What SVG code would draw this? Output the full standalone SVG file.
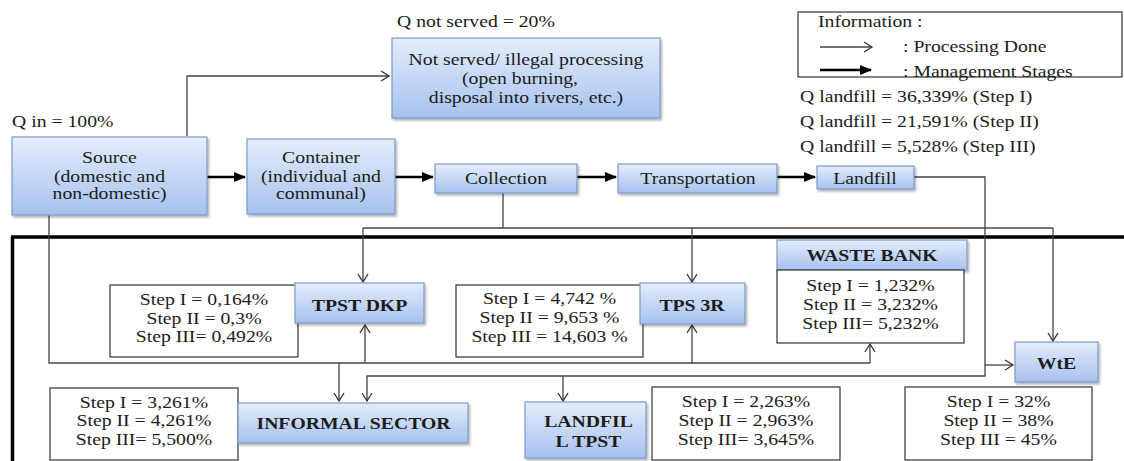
<svg xmlns="http://www.w3.org/2000/svg" width="1124" height="461" viewBox="0 0 1124 461">
<defs>
<linearGradient id="bg" x1="0" y1="0" x2="0" y2="1">
<stop offset="0" stop-color="#e4edfc"/>
<stop offset="1" stop-color="#a6c1ee"/>
</linearGradient>
<filter id="sh" x="-10%" y="-10%" width="130%" height="140%">
<feDropShadow dx="1.5" dy="2" stdDeviation="1.2" flood-color="#000" flood-opacity="0.3"/>
</filter>
<marker id="open" markerWidth="12" markerHeight="12" refX="10" refY="6" orient="auto" markerUnits="userSpaceOnUse">
<path d="M2,1 L10,6 L2,11" fill="none" stroke="#333" stroke-width="1.3"/>
</marker>
<marker id="solid" markerWidth="12" markerHeight="10" refX="11" refY="5" orient="auto" markerUnits="userSpaceOnUse">
<path d="M0,0 L12,5 L0,10 Z" fill="#000"/>
</marker>
<style>
.b{fill:url(#bg);stroke:#7d99c9;stroke-width:1.2;filter:url(#sh)}
.w{fill:#fff;stroke:#333;stroke-width:1.2}
.c{text-anchor:middle}
.bd{font-weight:bold}
.thin{fill:none;stroke:#444;stroke-width:1.3}
.thk{fill:none;stroke:#000;stroke-width:2.6}
</style>
</defs>
<rect width="1124" height="461" fill="#fff"/>

<g id="frame">
<path d="M11,237 H1124 M12.5,237 V461" fill="none" stroke="#000" stroke-width="3.5"/>
</g>

<g id="connectors">
<path class="thin" d="M187,136 V76 H389" marker-end="url(#open)"/>
<path class="thk" d="M207,177 H245" marker-end="url(#solid)"/>
<path class="thk" d="M395,177 H433" marker-end="url(#solid)"/>
<path class="thk" d="M577,177 H616" marker-end="url(#solid)"/>
<path class="thk" d="M777,177 H815" marker-end="url(#solid)"/>
<path class="thin" d="M503,193 V228"/>
<path class="thin" d="M363,228 H1053"/>
<path class="thin" d="M363,228 V282" marker-end="url(#open)"/>
<path class="thin" d="M692,228 V282" marker-end="url(#open)"/>
<path class="thin" d="M1053,228 V341" marker-end="url(#open)"/>
<path class="thin" d="M49,215 V363 H870"/>
<path class="thin" d="M365,363 V325" marker-end="url(#open)"/>
<path class="thin" d="M692,363 V325" marker-end="url(#open)"/>
<path class="thin" d="M870,363 V344" marker-end="url(#open)"/>
<path class="thin" d="M339,363 V401" marker-end="url(#open)"/>
<path class="thin" d="M914,177 H985 V376 H367 V401" marker-end="url(#open)"/>
<path class="thin" d="M563,376 V401" marker-end="url(#open)"/>
<path class="thin" d="M985,365 H1013" marker-end="url(#open)"/>
</g>

<g id="q-not-served"><text font-family="Liberation Serif" font-size="17" fill="#1c1c1c" transform="translate(397 27) scale(1.16 1)">Q not served = 20%</text></g>

<g id="not-served">
<rect class="b" x="392" y="38" width="268" height="80"/>
<text class="c" font-family="Liberation Serif" font-size="17" fill="#1c1c1c" transform="translate(526 65) scale(1.16 1)">Not served/ illegal processing</text>
<text class="c" font-family="Liberation Serif" font-size="17" fill="#1c1c1c" transform="translate(520 84) scale(1.16 1)">(open burning,</text>
<text class="c" font-family="Liberation Serif" font-size="17" fill="#1c1c1c" transform="translate(526 103) scale(1.16 1)">disposal into rivers, etc.)</text>
</g>

<g id="q-in"><text font-family="Liberation Serif" font-size="17" fill="#1c1c1c" transform="translate(12 127) scale(1.16 1)">Q in = 100%</text></g>

<g id="source">
<rect class="b" x="12" y="137" width="195" height="78"/>
<text class="c" font-family="Liberation Serif" font-size="17" fill="#1c1c1c" transform="translate(109.5 163) scale(1.16 1)">Source</text>
<text class="c" font-family="Liberation Serif" font-size="17" fill="#1c1c1c" transform="translate(109.5 182) scale(1.16 1)">(domestic and</text>
<text class="c" font-family="Liberation Serif" font-size="17" fill="#1c1c1c" transform="translate(109.5 199) scale(1.16 1)">non-domestic)</text>
</g>

<g id="container">
<rect class="b" x="247" y="139" width="148" height="75"/>
<text class="c" font-family="Liberation Serif" font-size="17" fill="#1c1c1c" transform="translate(321 163) scale(1.16 1)">Container</text>
<text class="c" font-family="Liberation Serif" font-size="17" fill="#1c1c1c" transform="translate(321 182) scale(1.16 1)">(individual and</text>
<text class="c" font-family="Liberation Serif" font-size="17" fill="#1c1c1c" transform="translate(321 199) scale(1.16 1)">communal)</text>
</g>

<g id="collection">
<rect class="b" x="435" y="164" width="142" height="29"/>
<text class="c" font-family="Liberation Serif" font-size="17" fill="#1c1c1c" transform="translate(506 184) scale(1.16 1)">Collection</text>
</g>

<g id="transportation">
<rect class="b" x="618" y="164" width="159" height="29"/>
<text class="c" font-family="Liberation Serif" font-size="17" fill="#1c1c1c" transform="translate(698 184) scale(1.16 1)">Transportation</text>
</g>

<g id="landfill">
<rect class="b" x="817" y="166" width="97" height="23"/>
<text class="c" font-family="Liberation Serif" font-size="17" fill="#1c1c1c" transform="translate(865 184) scale(1.16 1)">Landfill</text>
</g>

<g id="legend">
<rect x="798" y="12" width="324" height="65" fill="#fff" stroke="#333" stroke-width="1.2"/>
<text font-family="Liberation Serif" font-size="17" fill="#1c1c1c" transform="translate(818 27) scale(1.16 1)">Information :</text>
<path class="thin" d="M820,47 H872" marker-end="url(#open)"/>
<text font-family="Liberation Serif" font-size="17" fill="#1c1c1c" transform="translate(903 52) scale(1.16 1)">: Processing Done</text>
<path class="thk" d="M820,70 H871" marker-end="url(#solid)"/>
<text font-family="Liberation Serif" font-size="17" fill="#1c1c1c" transform="translate(903 77) scale(1.16 1)">: Management Stages</text>
</g>

<g id="q-landfill">
<text font-family="Liberation Serif" font-size="17" fill="#1c1c1c" transform="translate(800 102) scale(1.16 1)">Q landfill = 36,339% (Step I)</text>
<text font-family="Liberation Serif" font-size="17" fill="#1c1c1c" transform="translate(800 127) scale(1.16 1)">Q landfill = 21,591% (Step II)</text>
<text font-family="Liberation Serif" font-size="17" fill="#1c1c1c" transform="translate(800 152) scale(1.16 1)">Q landfill = 5,528% (Step III)</text>
</g>

<g id="tpst-dkp-stats">
<rect class="w" x="110" y="285" width="188" height="72"/>
<text class="c" font-family="Liberation Serif" font-size="17" fill="#1c1c1c" transform="translate(204 305) scale(1.16 1)">Step I = 0,164%</text>
<text class="c" font-family="Liberation Serif" font-size="17" fill="#1c1c1c" transform="translate(204 324) scale(1.16 1)">Step II = 0,3%</text>
<text class="c" font-family="Liberation Serif" font-size="17" fill="#1c1c1c" transform="translate(204 342) scale(1.16 1)">Step III= 0,492%</text>
</g>

<g id="tpst-dkp">
<rect class="b" x="295" y="283" width="129" height="40"/>
<text class="c bd" font-family="Liberation Serif" font-size="17" fill="#1c1c1c" transform="translate(359.5 311) scale(1.16 1)">TPST DKP</text>
</g>

<g id="tps3r-stats">
<rect class="w" x="456" y="285" width="187" height="72"/>
<text class="c" font-family="Liberation Serif" font-size="17" fill="#1c1c1c" transform="translate(549.5 304) scale(1.16 1)">Step I = 4,742 %</text>
<text class="c" font-family="Liberation Serif" font-size="17" fill="#1c1c1c" transform="translate(549.5 323) scale(1.16 1)">Step II = 9,653 %</text>
<text class="c" font-family="Liberation Serif" font-size="17" fill="#1c1c1c" transform="translate(549.5 342) scale(1.16 1)">Step III = 14,603 %</text>
</g>

<g id="tps3r">
<rect class="b" x="640" y="283" width="105" height="41"/>
<text class="c bd" font-family="Liberation Serif" font-size="17" fill="#1c1c1c" transform="translate(692 311) scale(1.16 1)">TPS 3R</text>
</g>

<g id="waste-bank">
<rect class="b" x="777" y="240" width="190" height="30"/>
<text class="c bd" font-family="Liberation Serif" font-size="17" fill="#1c1c1c" transform="translate(872 261) scale(1.16 1)">WASTE BANK</text>
</g>

<g id="waste-bank-stats">
<rect class="w" x="777" y="270" width="187" height="73"/>
<text class="c" font-family="Liberation Serif" font-size="17" fill="#1c1c1c" transform="translate(870.5 291) scale(1.16 1)">Step I = 1,232%</text>
<text class="c" font-family="Liberation Serif" font-size="17" fill="#1c1c1c" transform="translate(870.5 310) scale(1.16 1)">Step II = 3,232%</text>
<text class="c" font-family="Liberation Serif" font-size="17" fill="#1c1c1c" transform="translate(870.5 329) scale(1.16 1)">Step III= 5,232%</text>
</g>

<g id="informal-stats">
<rect class="w" x="50" y="388" width="188" height="72"/>
<text class="c" font-family="Liberation Serif" font-size="17" fill="#1c1c1c" transform="translate(144 408) scale(1.16 1)">Step I = 3,261%</text>
<text class="c" font-family="Liberation Serif" font-size="17" fill="#1c1c1c" transform="translate(144 426) scale(1.16 1)">Step II = 4,261%</text>
<text class="c" font-family="Liberation Serif" font-size="17" fill="#1c1c1c" transform="translate(144 445) scale(1.16 1)">Step III= 5,500%</text>
</g>

<g id="informal-sector">
<rect class="b" x="238" y="403" width="230" height="40"/>
<text class="c bd" font-family="Liberation Serif" font-size="17" fill="#1c1c1c" transform="translate(353.5 429) scale(1.16 1)">INFORMAL SECTOR</text>
</g>

<g id="landfill-tpst">
<rect class="b" x="525" y="402" width="121" height="56"/>
<text class="c bd" font-family="Liberation Serif" font-size="17" fill="#1c1c1c" transform="translate(588.5 427) scale(1.16 1)">LANDFIL</text>
<text class="c bd" font-family="Liberation Serif" font-size="17" fill="#1c1c1c" transform="translate(588.5 447) scale(1.16 1)">L TPST</text>
</g>

<g id="landfill-tpst-stats">
<rect class="w" x="652" y="387" width="188" height="73"/>
<text class="c" font-family="Liberation Serif" font-size="17" fill="#1c1c1c" transform="translate(746 407) scale(1.16 1)">Step I = 2,263%</text>
<text class="c" font-family="Liberation Serif" font-size="17" fill="#1c1c1c" transform="translate(746 426) scale(1.16 1)">Step II = 2,963%</text>
<text class="c" font-family="Liberation Serif" font-size="17" fill="#1c1c1c" transform="translate(746 445) scale(1.16 1)">Step III= 3,645%</text>
</g>

<g id="wte">
<rect class="b" x="1015" y="342" width="83" height="40"/>
<text class="c bd" font-family="Liberation Serif" font-size="17" fill="#1c1c1c" transform="translate(1056.5 369) scale(1.16 1)">WtE</text>
</g>

<g id="wte-stats">
<rect class="w" x="905" y="387" width="187" height="73"/>
<text class="c" font-family="Liberation Serif" font-size="17" fill="#1c1c1c" transform="translate(998.5 407) scale(1.16 1)">Step I = 32%</text>
<text class="c" font-family="Liberation Serif" font-size="17" fill="#1c1c1c" transform="translate(998.5 426) scale(1.16 1)">Step II = 38%</text>
<text class="c" font-family="Liberation Serif" font-size="17" fill="#1c1c1c" transform="translate(998.5 445) scale(1.16 1)">Step III = 45%</text>
</g>
</svg>
